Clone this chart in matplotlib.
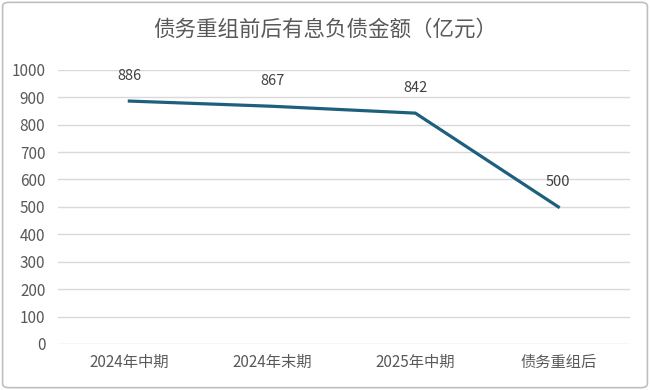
import matplotlib.pyplot as plt
from matplotlib.patches import FancyBboxPatch

plt.rcParams['font.family'] = ['Noto Sans CJK SC', 'DejaVu Sans']

categories = ["2024年中期", "2024年末期", "2025年中期", "债务重组后"]
debt = [886, 867, 842, 500]
yticks = list(range(0, 1001, 100))

fig = plt.figure(figsize=(6.5, 3.9), dpi=100)
fig.patch.set_facecolor("white")

# rounded gray frame around the chart
frame = FancyBboxPatch((0.004, 0.006), 0.992, 0.988, boxstyle="round,pad=0,rounding_size=0.01",
                       transform=fig.transFigure, facecolor="none", edgecolor="#bfbfbf",
                       linewidth=1.2, zorder=10)
fig.patches.append(frame)

ax = fig.add_axes([0.089, 0.118, 0.88, 0.703])
ax.patch.set_alpha(0)
x = [i + 0.5 for i in range(len(categories))]
ax.plot(x, debt, color="#1d5f7d", linewidth=2.3, solid_joinstyle="miter")

for xi, v in zip(x, debt):
    ax.annotate(str(v), (xi, v), xytext=(0, 13), textcoords="offset points",
                ha="center", va="bottom", fontsize=10.5, color="#404040")

ax.set_xlim(0, len(categories))
ax.set_ylim(0, 1000)
ax.set_yticks(yticks)
ax.set_xticks(x)
ax.set_xticklabels(categories)
ax.grid(axis="y", color="#d9d9d9", linewidth=1)
ax.set_axisbelow(True)
for s in ax.spines.values():
    s.set_visible(False)
ax.tick_params(axis="both", length=0, labelsize=11, labelcolor="#595959")
ax.tick_params(axis="x", pad=7)
ax.tick_params(axis="y", pad=9)

fig.text(0.5, 0.923, "债务重组前后有息负债金额（亿元）", ha="center", va="center",
         fontsize=15.5, color="#595959")

fig.savefig("out.png", dpi=100)
